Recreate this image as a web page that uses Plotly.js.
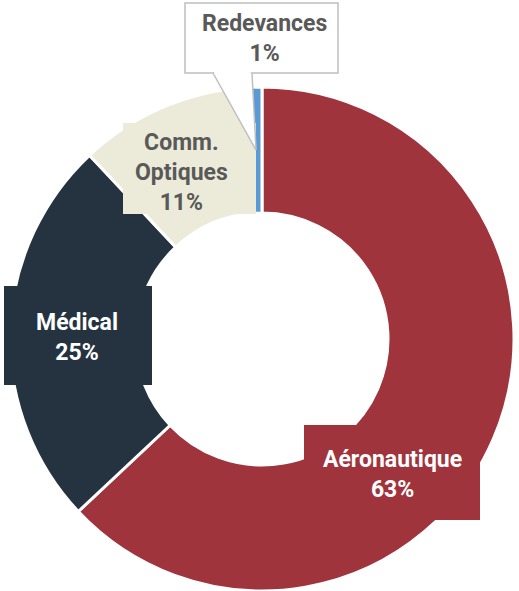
<!DOCTYPE html>
<html>
<head>
<meta charset="utf-8">
<script src="https://cdn.plot.ly/plotly-3.0.1.min.js"></script>
<style>html,body{margin:0;padding:0;background:#fff;}#chart{width:519px;height:591px;}</style>
</head>
<body>
<div id="chart"></div>
<script>
// ---- data ----
const categories = ['Aéronautique', 'Médical', 'Comm. Optiques', 'Redevances'];
const labelLines = ['Aéronautique', 'Médical', 'Comm.<br>Optiques', 'Redevances'];
const values = [63, 25, 11, 1];
const sliceColors = ['#A0343C', '#253341', '#ECEBDA', '#5B9BD5'];

// ---- layout config (pixels) ----
const W = 519, H = 591;
const pieCx = 262, pieCy = 339, pieR = 252;
const labelBoxes = [
  {box: [304, 425, 480, 520], text: [392, 474], fill: sliceColors[0], font: '#FFFFFF', border: null, size: 23},
  {box: [4, 286, 152, 385], text: [77, 337], fill: sliceColors[1], font: '#FFFFFF', border: null, size: 23},
  {box: [123, 123, 256, 214], text: [181, 172], fill: sliceColors[2], font: '#595959', border: null, size: 23},
  {box: [185, 3, 338, 73], text: [264, 39], fill: '#FFFFFF', font: '#595959', border: '#BFBFBF', size: 23}
];

const px = x => x / W;
const py = y => 1 - y / H;

const total = values.reduce((a, b) => a + b, 0);
const pct = values.map(v => Math.round(v / total * 100) + '%');

const shapes = [];
const annotations = [];
labelBoxes.forEach((lb, i) => {
  const [x0, y0, x1, y1] = lb.box;
  shapes.push({
    type: 'rect', xref: 'paper', yref: 'paper', layer: 'above',
    x0: px(x0), x1: px(x1), y0: py(y1), y1: py(y0),
    fillcolor: lb.fill,
    line: {width: lb.border ? 1.5 : 0, color: lb.border || lb.fill}
  });
  annotations.push({
    xref: 'paper', yref: 'paper', x: px(lb.text[0]), y: py(lb.text[1]),
    xanchor: 'center', yanchor: 'middle', showarrow: false, align: 'center',
    text: '<b>' + labelLines[i] + '<br>' + pct[i] + '</b>',
    font: {family: 'Roboto, Arial, sans-serif', size: lb.size, color: lb.font}
  });
});

// callout pointer for the smallest slice, tip placed inside the slice (computed from data)
let cum = 0;
const mids = values.map(v => { const m = (cum + v / 2) / total; cum += v; return m; });
const lastIdx = values.length - 1;
const ang = mids[lastIdx] * 2 * Math.PI;
const tipR = pieR * 0.75;
const tipX = pieCx + tipR * Math.sin(ang);
const tipY = pieCy - tipR * Math.cos(ang);
const rb = labelBoxes[lastIdx].box;
shapes.push({
  type: 'path', xref: 'paper', yref: 'paper', layer: 'above',
  path: `M ${px(213)},${py(rb[3])} L ${px(tipX)},${py(tipY)} L ${px(252)},${py(rb[3])}`,
  fillcolor: '#FFFFFF', line: {color: '#BFBFBF', width: 1.5}
});
// cover the box border between the pointer legs
shapes.push({
  type: 'line', xref: 'paper', yref: 'paper', layer: 'above',
  x0: px(214.5), x1: px(250.5), y0: py(rb[3]), y1: py(rb[3]),
  line: {color: '#FFFFFF', width: 2.5}
});

const trace = {
  type: 'pie',
  labels: categories,
  values: values,
  hole: 0.5,
  sort: false,
  direction: 'clockwise',
  rotation: 0,
  textinfo: 'none',
  hoverinfo: 'label+percent',
  marker: {colors: sliceColors, line: {color: '#FFFFFF', width: 3}},
  domain: {x: [px(pieCx - pieR), px(pieCx + pieR)], y: [py(pieCy + pieR), py(pieCy - pieR)]},
  showlegend: false
};

const layout = {
  width: W, height: H,
  margin: {l: 0, r: 0, t: 0, b: 0},
  paper_bgcolor: '#FFFFFF',
  showlegend: false,
  shapes: shapes,
  annotations: annotations
};

Plotly.newPlot('chart', [trace], layout, {displayModeBar: false, staticPlot: true});
</script>
</body>
</html>
